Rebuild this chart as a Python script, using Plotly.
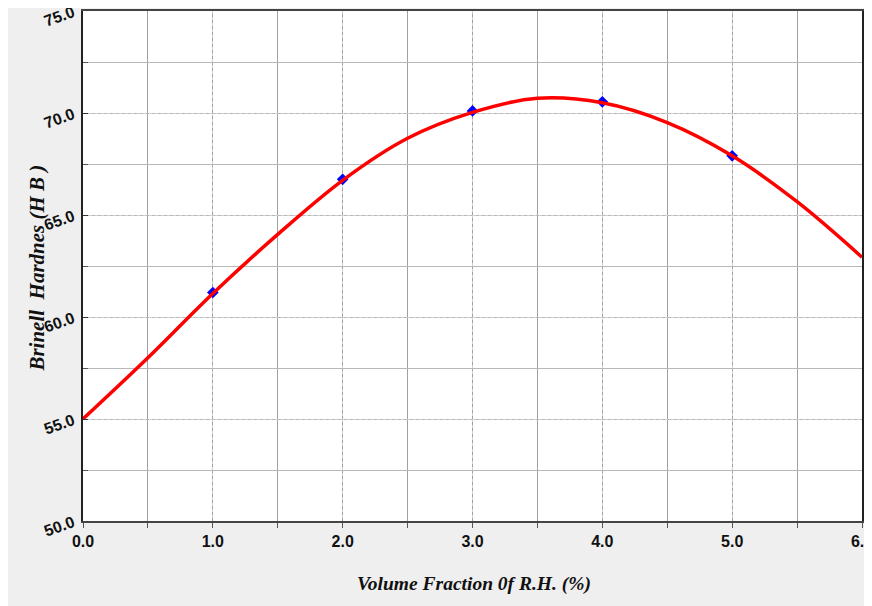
import plotly.graph_objects as go

# Data
fit_x = [0.0, 0.5, 1.0, 1.5, 2.0, 2.5, 3.0, 3.5, 4.0, 4.5, 5.0, 5.5, 6.0]
fit_y = [55.0, 58.0, 61.15, 64.05, 66.7, 68.76, 70.03, 70.72, 70.5, 69.53, 67.9, 65.65, 62.93]
meas_x = [1.0, 2.0, 3.0, 4.0, 5.0]
meas_y = [61.2, 66.75, 70.1, 70.55, 67.9]
x_ticks = [0, 1, 2, 3, 4, 5, 6]
x_labels = ["0.0", "1.0", "2.0", "3.0", "4.0", "5.0", "6.0"]
y_ticks = [50, 55, 60, 65, 70, 75]
y_labels = ["50.0", "55.0", "60.0", "65.0", "70.0", "75.0"]

fig = go.Figure()
fig.add_trace(go.Scatter(x=meas_x, y=meas_y, mode="markers",
                         marker=dict(symbol="diamond", size=9, color="#0000ff"),
                         showlegend=False))
fig.add_trace(go.Scatter(x=fit_x, y=fit_y, mode="lines",
                         line=dict(color="#ff0000", width=3.5, shape="spline", smoothing=1.0),
                         hoverinfo="skip", showlegend=False))

tfont = dict(family="Liberation Sans, Arial", size=16, color="#111111", weight="bold")

fig.update_layout(
    width=872, height=606,
    margin=dict(l=75, r=18, t=3, b=93),
    paper_bgcolor="#efefef",
    plot_bgcolor="#ffffff",
    xaxis=dict(range=[0, 6], tickvals=x_ticks, ticktext=x_labels, automargin=False,
               ticklabeloverflow="allow",
               showgrid=True, gridcolor="#cfcfcf", griddash="dot", gridwidth=1,
               ticks="outside", ticklen=5, tickcolor="#555555",
               minor=dict(dtick=0.5, showgrid=True, gridcolor="#a0a0a0", gridwidth=1,
                          griddash="solid",
                          ticks="outside", ticklen=5, tickcolor="#555555"),
               showline=True, linecolor="#444444", linewidth=2, mirror=True,
               tickfont=tfont, zeroline=False, fixedrange=True),
    yaxis=dict(range=[50, 75], tickvals=y_ticks, ticktext=y_labels, automargin=False,
               ticklabeloverflow="allow", ticklabelstandoff=5,
               showgrid=True, gridcolor="#cfcfcf", griddash="dot", gridwidth=1,
               ticks="inside", ticklen=5, tickcolor="#333333",
               minor=dict(dtick=2.5, showgrid=True, gridcolor="#b8b8b8", gridwidth=1,
                          griddash="solid",
                          ticks="inside", ticklen=5, tickcolor="#555555"),
               showline=True, linecolor="#222222", linewidth=1.5, mirror=True,
               tickangle=-20, tickfont=tfont, zeroline=False, fixedrange=True),
    annotations=[
        dict(text="<b><i>Volume Fraction 0f R.H. (%)</i></b>", xref="paper", yref="paper",
             x=0.502, y=-0.124, xanchor="center", yanchor="middle", showarrow=False,
             font=dict(family="Liberation Serif, Times New Roman", size=19.5, color="#111111")),
        dict(text="<b><i>Brinell  Hardnes (H B )</i></b>", xref="paper", yref="paper",
             x=-0.059, y=0.495, xanchor="center", yanchor="middle", showarrow=False,
             textangle=-90,
             font=dict(family="Liberation Serif, Times New Roman", size=21, color="#111111")),
    ],
)

fig.write_html("out.html")
